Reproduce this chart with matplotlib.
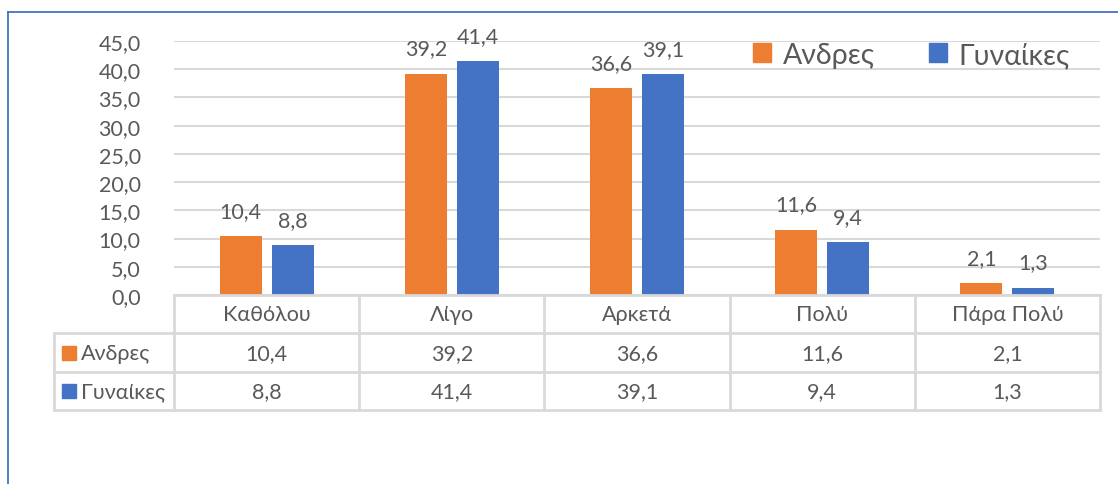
import matplotlib.pyplot as plt
from matplotlib.patches import Rectangle
from matplotlib.lines import Line2D

categories = ["Καθόλου", "Λίγο", "Αρκετά", "Πολύ", "Πάρα Πολύ"]
series_names = ["Ανδρες", "Γυναίκες"]
andres = [10.4, 39.2, 36.6, 11.6, 2.1]
gynaikes = [8.8, 41.4, 39.1, 9.4, 1.3]
yticks = [0, 5, 10, 15, 20, 25, 30, 35, 40, 45]

ORANGE = "#ED7D31"
BLUE = "#4472C4"
GRID = "#D9D9D9"
TXT = "#595959"
FS = 15.5

plt.rcParams["font.family"] = ["Lato", "DejaVu Sans"]

W, H = 1118, 485
fig = plt.figure(figsize=(W / 100, H / 100), dpi=100)


def fx(px):
    return px / W


def fy(py):
    return 1 - py / H


def fmt(v):
    return f"{v:.1f}".replace(".", ",")


# chart border (blue, top + left)
fig.add_artist(Line2D([fx(8), fx(8)], [fy(13), 0], color=BLUE, lw=1.3))
fig.add_artist(Line2D([fx(8), 1], [fy(13), fy(13)], color=BLUE, lw=1.3))

left, right, top, bottom = 174, 1100, 42, 296
ax = fig.add_axes([fx(left), fy(bottom), fx(right - left), (bottom - top) / H])
n = len(categories)
x = list(range(n))
bw = 0.227
off = 0.14
b1 = ax.bar([i - off for i in x], andres, bw, color=ORANGE, zorder=3)
b2 = ax.bar([i + off for i in x], gynaikes, bw, color=BLUE, zorder=3)
for bars, vals in ((b1, andres), (b2, gynaikes)):
    for r, v in zip(bars, vals):
        ax.text(r.get_x() + r.get_width() / 2, v + 3.4, fmt(v),
                ha="center", va="baseline", fontsize=FS, color=TXT)

ax.set_xlim(-0.5, n - 0.5)
ax.set_ylim(0, 45)
ax.set_yticks(yticks)
ax.set_yticklabels([fmt(t) for t in yticks], fontsize=FS, color=TXT)
ax.tick_params(axis="y", length=0, pad=24)
ax.set_xticks([])
ax.grid(axis="y", color=GRID, lw=1.5, zorder=0)
for s in ax.spines.values():
    s.set_visible(False)

handles = [Rectangle((0, 0), 1, 1, color=ORANGE), Rectangle((0, 0), 1, 1, color=BLUE)]
ax.legend(handles, series_names, loc="upper right", bbox_to_anchor=(0.995, 1.1),
          ncol=2, frameon=False, fontsize=20.5, labelcolor=TXT,
          handlelength=0.65, handleheight=0.65, handletextpad=0.4, columnspacing=1.9)

# data table
row_y = [296, 334, 373, 411]
tab_left = 54
colw = (right - left) / n
lw = 2
fig.add_artist(Line2D([fx(left), fx(right)], [fy(296), fy(296)], color=GRID, lw=lw))
for yy in row_y[1:]:
    fig.add_artist(Line2D([fx(tab_left), fx(right)], [fy(yy), fy(yy)], color=GRID, lw=lw))
fig.add_artist(Line2D([fx(tab_left), fx(tab_left)], [fy(334), fy(411)], color=GRID, lw=lw))
for i in range(n + 1):
    xx = left + i * colw
    fig.add_artist(Line2D([fx(xx), fx(xx)], [fy(296), fy(411)], color=GRID, lw=lw))

for i, c in enumerate(categories):
    cx = left + (i + 0.5) * colw
    fig.text(fx(cx), fy(315), c, ha="center", va="center", fontsize=FS, color=TXT)
    fig.text(fx(cx), fy(354), fmt(andres[i]), ha="center", va="center", fontsize=FS, color=TXT)
    fig.text(fx(cx), fy(392), fmt(gynaikes[i]), ha="center", va="center", fontsize=FS, color=TXT)

for name, col, cy in ((series_names[0], ORANGE, 354), (series_names[1], BLUE, 392)):
    fig.add_artist(Rectangle((fx(62), fy(cy + 7)), 14 / W, 14 / H, color=col))
    fig.text(fx(81), fy(cy), name, ha="left", va="center", fontsize=FS, color=TXT)

fig.savefig("out.png", dpi=100)
